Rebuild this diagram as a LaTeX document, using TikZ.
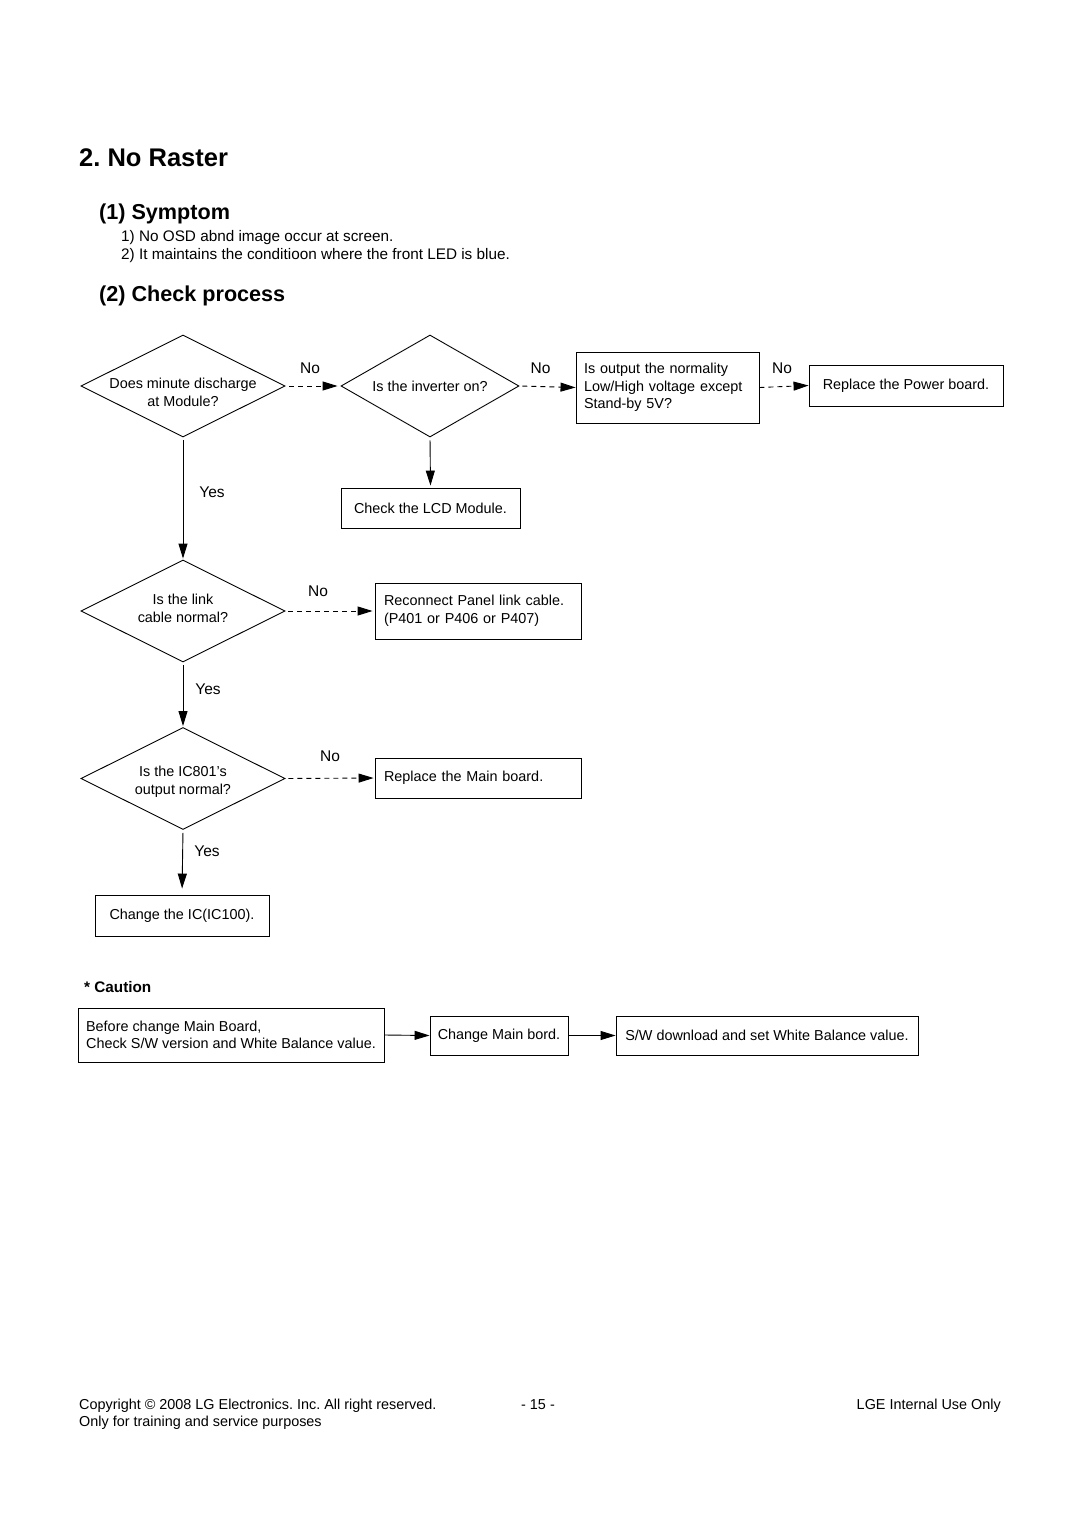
\documentclass[tikz,border=0pt]{standalone}
\usepackage{fontspec}
\setmainfont{Liberation Sans}
\frenchspacing
\usetikzlibrary{arrows.meta,shapes.geometric}
\begin{document}
\begin{tikzpicture}[x=1pt,y=-1pt,
  every node/.style={font=\fontsize{14.4}{17.5}\selectfont, inner sep=0pt},
  dia/.style={draw, shape=diamond, minimum width=204, minimum height=102, line width=0.9pt},
  dtext/.style={align=center, anchor=base, font=\fontsize{14.4}{17.5}\selectfont},
  box/.style={draw, rectangle, line width=0.9pt, align=center},
  lbox/.style={draw, rectangle, line width=0.9pt, align=left},
  lab/.style={font=\fontsize{15.5}{18}\selectfont, anchor=base},
  txt/.style={font=\fontsize{15.3}{19}\selectfont, anchor=base west},
  arr/.style={line width=0.9pt, -{Triangle[length=15pt,width=9pt]}},
  darr/.style={arr, dash pattern=on 5pt off 4pt},
]
\useasboundingbox (0,0) rectangle (1080,1528);

% headings
\node[anchor=base west, font=\fontsize{25.5}{30}\selectfont\bfseries] (title) at (79,166) {2. No Raster};
\node[anchor=base west, font=\fontsize{21.6}{26}\selectfont\bfseries] (h1) at (99,219) {(1) Symptom};
\node[txt] (s1) at (121,241) {1) No OSD abnd image occur at screen.};
\node[txt] (s2) at (121,259) {2) It maintains the conditioon where the front LED is blue.};
\node[anchor=base west, font=\fontsize{21.6}{26}\selectfont\bfseries] (h2) at (99,301) {(2) Check process};

% row 1
\node[dia] (d1) at (183,386) {};
\node[dtext] (t1) at (183,406) {Does minute discharge\\at Module?};
\node[dia, minimum width=178] (d2) at (430,386) {};
\node[dtext] (t2) at (430,391) {Is the inverter on?};
\node[lbox, minimum height=71, text width=167, inner xsep=8pt] (b1) at (667.5,387.5) {Is output the normality\\Low/High voltage except\\Stand-by 5V?};
\node[box, minimum width=194, minimum height=41] (b2) at (906,385.5) {Replace the Power board.};
\node[box, minimum width=179, minimum height=40] (lcd) at (430.5,508) {Check the LCD Module.};

\draw[darr, shorten <=4pt, shorten >=3pt] (d1.east) -- (d2.west);
\draw[darr, shorten <=3pt] (d2.east) -- (b1.west);
\draw[darr] (b1.east) -- (b2.west);
\draw[arr, shorten <=3pt, shorten >=2pt] (d2.south) -- (lcd.north);
\node[lab] (n1) at (310,373.5) {No};
\node[lab] (n2) at (540.5,373.5) {No};
\node[lab] (n3) at (782,373.5) {No};

% second decision
\node[dia] (d3) at (183,611) {};
\node[dtext] (t3) at (183,622) {Is the link\\cable normal?};
\node[lbox, minimum height=56, text width=188, inner xsep=9pt] (b3) at (478,611) {Reconnect Panel link cable.\\(P401 or P406 or P407)};
\draw[arr, shorten <=3pt, shorten >=1pt] (d1.south) -- (d3.north);
\draw[darr, shorten <=3pt, shorten >=2pt] (d3.east) -- (b3.west);
\node[lab] (y1) at (212,497.5) {Yes};
\node[lab] (n4) at (318,596.5) {No};

% third decision
\node[dia] (d4) at (183,778.5) {};
\node[dtext] (t4) at (183,794) {Is the IC801's\\output normal?};
\node[lbox, minimum height=40, text width=188, inner xsep=9pt] (b4) at (478,778) {Replace the Main board.};
\draw[arr, shorten <=3pt, shorten >=1pt] (d3.south) -- (d4.north);
\draw[darr, shorten <=3pt, shorten >=1pt] (d4.east) -- (b4.west);
\node[lab] (y2) at (208,694.5) {Yes};
\node[lab] (n5) at (330,761.5) {No};

\node[box, minimum width=174, minimum height=41] (b5) at (182,915.5) {Change the IC(IC100).};
\draw[arr, shorten <=3pt, shorten >=6pt] (d4.south) -- (b5.north);
\node[lab] (y3) at (207,856.5) {Yes};

% caution
\node[anchor=base west, font=\fontsize{15.3}{19}\selectfont\bfseries] (cau) at (84,992) {* Caution};
\node[lbox, minimum width=306, minimum height=54] (c1) at (231,1035) {Before change Main Board,\\Check S/W version and White Balance value.};
\node[box, minimum width=138, minimum height=39] (c2) at (499,1035.5) {Change Main bord.};
\node[box, minimum width=302, minimum height=39] (c3) at (767,1035.5) {S/W download and set White Balance value.};
\draw[arr] (c1.east) -- (c2.west);
\draw[arr] (c2.east) -- (c3.west);

% footer
\node[anchor=base west] (f1) at (79,1409) {Copyright © 2008 LG Electronics. Inc. All right reserved.};
\node[anchor=base west] (f2) at (79,1426) {Only for training and service purposes};
\node[anchor=base] (f3) at (538,1409) {- 15 -};
\node[anchor=base east] (f4) at (1001,1409) {LGE Internal Use Only};
\end{tikzpicture}
\end{document}
